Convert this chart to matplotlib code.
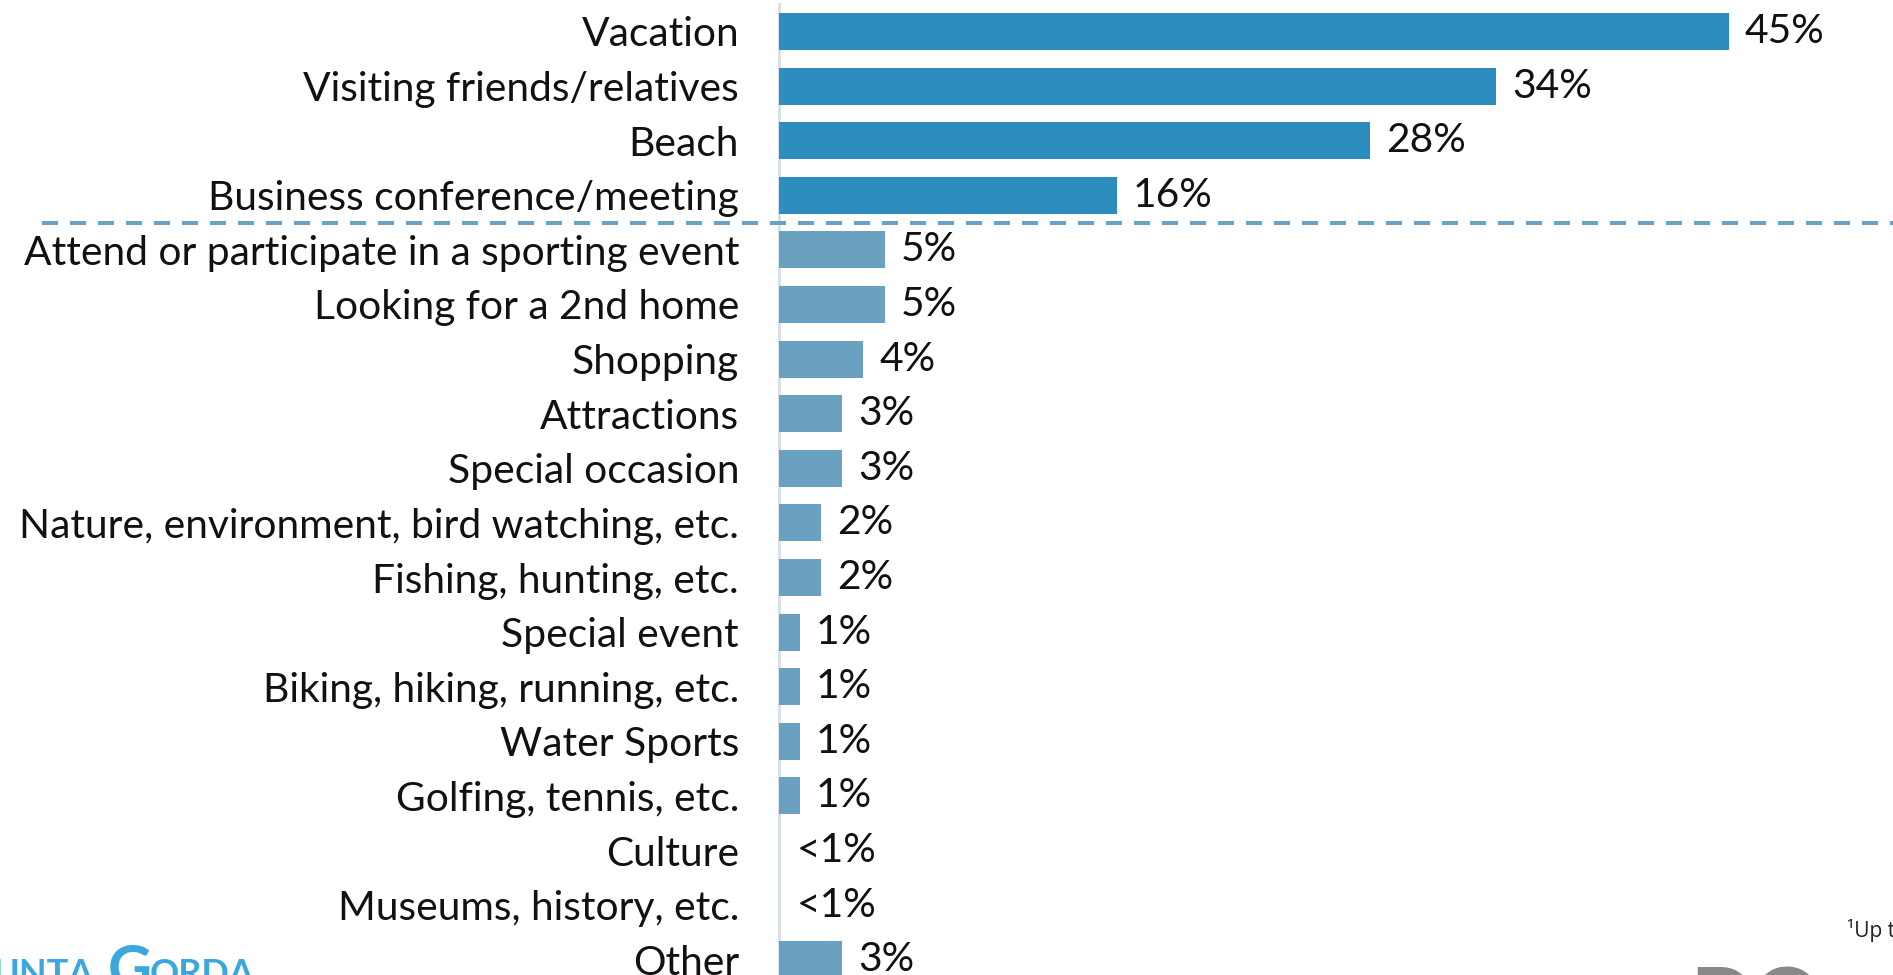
import matplotlib
matplotlib.use("Agg")
import matplotlib.pyplot as plt
import matplotlib.transforms as mtransforms

categories = ["Vacation", "Visiting friends/relatives", "Beach", "Business conference/meeting",
              "Attend or participate in a sporting event", "Looking for a 2nd home", "Shopping",
              "Attractions", "Special occasion", "Nature, environment, bird watching, etc.",
              "Fishing, hunting, etc.", "Special event", "Biking, hiking, running, etc.",
              "Water Sports", "Golfing, tennis, etc.", "Culture", "Museums, history, etc.", "Other"]
values = [45, 34, 28, 16, 5, 5, 4, 3, 3, 2, 2, 1, 1, 1, 1, 0, 0, 3]
value_labels = ["45%", "34%", "28%", "16%", "5%", "5%", "4%", "3%", "3%", "2%", "2%",
                "1%", "1%", "1%", "1%", "<1%", "<1%", "3%"]
top_group = 4

W, H = 1893, 975
fig = plt.figure(figsize=(W / 100, H / 100), dpi=100)
plt.rcParams['font.family'] = ['Lato', 'DejaVu Sans']

ax_left = 779
ax = fig.add_axes([ax_left / W, 0, (W - ax_left) / W, 1])
pitch = 54.6
first_c = 31.5
ax.set_ylim((H - first_c) / pitch, -first_c / pitch)
ax.set_xlim(0, (W - ax_left) / 21.1)

dark = "#2c8dbe"
light = "#6aa0c0"
colors = [dark if i < top_group else light for i in range(len(values))]
y = list(range(len(values)))
ax.barh(y, values, height=0.68, color=colors, zorder=2)

FS = 29.3
for yi, v, lab in zip(y, values, value_labels):
    off = 16 if v > 0 else 18
    ax.annotate(lab, (v, yi), xytext=(off * 0.72, 0), textcoords="offset points",
                ha="left", va="center", fontsize=FS, color="#111111")

ax.set_yticks(y)
ax.set_yticklabels(categories, fontsize=FS, color="#111111")
ax.tick_params(axis="y", length=0, pad=40 * 0.72)
ax.tick_params(axis="x", bottom=False, labelbottom=False)
for s in ax.spines.values():
    s.set_visible(False)

# axis line
ax.plot([0, 0], [1 - 4 / H, 0], transform=ax.get_xaxis_transform(), color="#d8dde6",
        lw=2, zorder=1, clip_on=False)

# dashed separator
trans = mtransforms.blended_transform_factory(fig.transFigure, ax.transData)
ax.plot([42 / W, 1.0], [top_group - 0.5, top_group - 0.5], transform=trans, color=light,
        lw=2.88, dashes=(4.0, 3.0), clip_on=False, zorder=3)

# footnote (cut off at the right edge, as in the reference)
fig.text(1847 / W, 1 - 937 / H, "¹Up to 3 responses", fontsize=15, color="#222222",
         ha="left", va="baseline", family=["Open Sans", "DejaVu Sans"])

# partial logos at bottom edge
logo_blue = "#3aa8da"
fig.text(-8 / W, 1 - 958 / H, "UNTA", fontsize=26, color=logo_blue, ha="left", va="top",
         fontweight="bold")
fig.text(108 / W, 1 - 943 / H, "G", fontsize=44, color=logo_blue, ha="left", va="top",
         fontweight="bold")
fig.text(150 / W, 1 - 958 / H, "ORDA", fontsize=26, color=logo_blue, ha="left", va="top",
         fontweight="bold")
fig.text(1690 / W, 1 - 966 / H, "DO", fontsize=60, color="#888888", ha="left", va="top",
         fontweight="bold")

fig.savefig("out.png", dpi=100)
